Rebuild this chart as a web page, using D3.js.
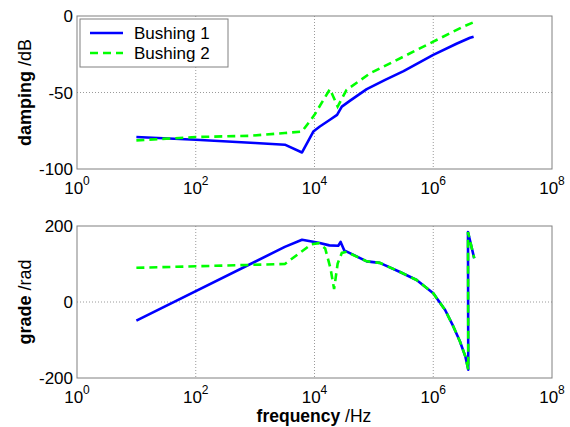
<!DOCTYPE html>
<html>
<head>
<meta charset="utf-8">
<script src="https://cdn.jsdelivr.net/npm/d3@7"></script>
<style>
  body { margin: 0; background: #fff; }
  svg { font-family: "Liberation Sans", Arial, sans-serif; }
  .grid line { stroke: #9a9a9a; stroke-dasharray: 1,2; stroke-width: 1; }
</style>
</head>
<body>
<div id="chart"></div>
<script>
// damping (dB) -- log10 of frequency and value
const dampFreq1 = [1.0, 2.0, 3.0, 3.5, 3.79, 3.98, 4.09, 4.26, 4.38, 4.46, 4.6, 4.88, 5.19, 5.5, 6.0, 6.4, 6.62, 6.68];
const damp1     = [-79.1, -80.9, -83, -84.1, -89.2, -75.5, -72.2, -67.8, -64.6, -59.2, -55.3, -47.8, -41.7, -36, -25.4, -18, -14.2, -13.5];
const dampFreq2 = [1.0, 2.0, 2.91, 3.5, 3.79, 4.0, 4.26, 4.39, 4.54, 4.94, 5.5, 6.0, 6.5, 6.68];
const damp2     = [-81.3, -79.1, -78.3, -76.5, -75.5, -64.6, -47.8, -59.2, -48.3, -37.4, -26.5, -16.8, -7, -4.1];

// grade (rad)
const gradeFreq1 = [1.0, 3.5, 3.79, 4.0, 4.07, 4.25, 4.4, 4.44, 4.5, 4.88, 5.1, 5.44, 5.72, 6.0, 6.2, 6.34, 6.45, 6.54, 6.59, 6.585, 6.69];
const grade1     = [-49, 145, 164, 158, 156, 149, 148, 158, 136, 107, 103, 79, 58, 23, -21, -65, -104, -143, -178, 184, 115];
const gradeFreq2 = [1.0, 2.0, 3.5, 3.95, 4.07, 4.18, 4.27, 4.33, 4.39, 4.46, 4.54, 4.88, 5.1, 5.44, 5.72, 6.0, 6.2, 6.34, 6.45, 6.54, 6.59, 6.585, 6.69];
const grade2     = [90, 94, 100, 152, 155, 141, 88, 34, 101, 129, 132, 107, 103, 79, 58, 23, -21, -65, -104, -143, -178, 184, 115];

const xTicks = [0, 2, 4, 6, 8];
const dampTicks = [0, -50, -100];
const gradeTicks = [-200, 0, 200];
const seriesNames = ['Bushing 1', 'Bushing 2'];

const W = 570, H = 427;
const svg = d3.select('#chart').append('svg')
    .attr('width', W)
    .attr('height', H);

const x = d3.scaleLog().domain([1, 1e8]).range([77, 552]);

function drawPanel(top, bottom, yDomain, yTicks, yLabel, unit, s1, s2) {
    const y = d3.scaleLinear().domain(yDomain).range([bottom, top]);
    const g = svg.append('g');

    const grid = g.append('g').attr('class', 'grid');
    grid.selectAll('.vx')
        .data(xTicks.slice(1, -1))
        .enter().append('line')
        .attr('x1', d => x(Math.pow(10, d))).attr('x2', d => x(Math.pow(10, d)))
        .attr('y1', top).attr('y2', bottom);
    grid.selectAll('.hy')
        .data(yTicks.slice(1, -1))
        .enter().append('line')
        .attr('x1', x.range()[0]).attr('x2', x.range()[1])
        .attr('y1', d => y(d)).attr('y2', d => y(d));

    const line = d3.line()
        .x(d => x(Math.pow(10, d[0])))
        .y(d => y(d[1]));

    g.append('path')
        .datum(s1)
        .attr('d', line)
        .attr('fill', 'none')
        .attr('stroke', '#0000ff')
        .attr('stroke-width', 2.6)
        .attr('stroke-linejoin', 'round');

    g.append('path')
        .datum(s2)
        .attr('d', line)
        .attr('fill', 'none')
        .attr('stroke', '#00ff00')
        .attr('stroke-width', 2.6)
        .attr('stroke-dasharray', '8,5');

    g.append('rect')
        .attr('x', x.range()[0])
        .attr('y', top)
        .attr('width', x.range()[1] - x.range()[0])
        .attr('height', bottom - top)
        .attr('fill', 'none')
        .attr('stroke', '#808080')
        .attr('stroke-width', 1);

    // y tick labels
    g.selectAll('.ylab')
        .data(yTicks)
        .enter().append('text')
        .attr('x', 73)
        .attr('y', d => y(d))
        .attr('dy', '0.36em')
        .attr('text-anchor', 'end')
        .style('font-size', '17px')
        .text(d => d);

    // x tick labels, 10^n
    const xl = g.selectAll('.xlab')
        .data(xTicks)
        .enter().append('text')
        .attr('x', d => x(Math.pow(10, d)))
        .attr('y', bottom + 25)
        .attr('text-anchor', 'middle')
        .style('font-size', '17px');
    xl.append('tspan').text('10');
    xl.append('tspan')
        .attr('dy', -9)
        .style('font-size', '12px')
        .text(d => d);

    const yl = g.append('text')
        .attr('transform', `translate(31,${(top + bottom) / 2}) rotate(-90)`)
        .attr('text-anchor', 'middle')
        .style('font-size', '18px');
    yl.append('tspan').style('font-weight', 'bold').text(yLabel);
    yl.append('tspan').text(' ' + unit);

    return y;
}

drawPanel(16, 169, [-100, 0], dampTicks, 'damping', '/dB',
    dampFreq1.map((f, i) => [f, damp1[i]]),
    dampFreq2.map((f, i) => [f, damp2[i]]));

drawPanel(226, 378, [-200, 200], gradeTicks, 'grade', '/rad',
    gradeFreq1.map((f, i) => [f, grade1[i]]),
    gradeFreq2.map((f, i) => [f, grade2[i]]));

const xlab = svg.append('text')
    .attr('x', 314)
    .attr('y', 422)
    .attr('text-anchor', 'middle')
    .style('font-size', '17.5px');
xlab.append('tspan').style('font-weight', 'bold').text('frequency');
xlab.append('tspan').text(' /Hz');

// legend
const legend = svg.append('g').attr('transform', 'translate(80,19)');
legend.append('rect')
    .attr('width', 148)
    .attr('height', 48)
    .attr('fill', '#fff')
    .attr('stroke', '#808080');
const items = legend.selectAll('.item')
    .data(seriesNames)
    .enter().append('g')
    .attr('transform', (d, i) => `translate(0,${14 + i * 20})`);
items.append('line')
    .attr('x1', 10).attr('x2', 43)
    .attr('y1', 0).attr('y2', 0)
    .attr('stroke', (d, i) => i === 0 ? '#0000ff' : '#00ff00')
    .attr('stroke-width', 2.6)
    .attr('stroke-dasharray', (d, i) => i === 0 ? null : '8,5');
items.append('text')
    .attr('x', 54)
    .attr('dy', '0.36em')
    .style('font-size', '17px')
    .text(d => d);
</script>
</body>
</html>
